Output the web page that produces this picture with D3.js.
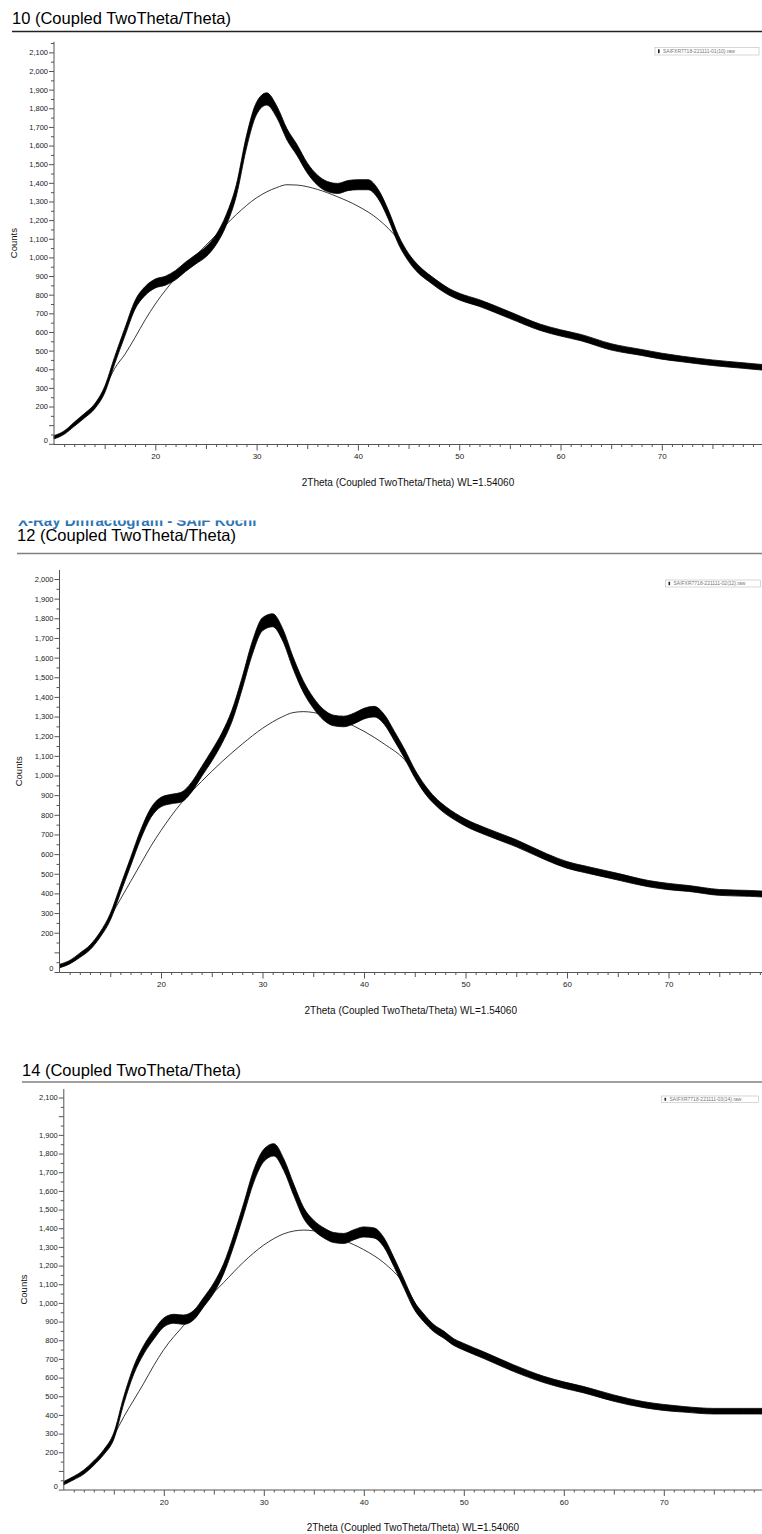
<!DOCTYPE html>
<html>
<head>
<meta charset="utf-8">
<script src="https://cdn.jsdelivr.net/npm/d3@7"></script>
<style>
  body { margin: 0; background: #fff; }
  text { font-family: "Liberation Sans", Arial, sans-serif; }
</style>
</head>
<body>
<script>
// 2theta positions (deg) where the patterns were read
const twoTheta = [10, 11, 12, 13, 14, 15, 16, 17, 18, 19, 20, 21, 22, 23, 24, 25, 26, 27, 28, 29,
  30, 31, 32, 33, 34, 35, 36, 37, 38, 39, 40, 41, 42, 43, 44, 45, 46, 47, 48, 49, 50,
  52, 55, 58, 60, 62, 65, 68, 70, 72, 75, 78, 80]

// counts (centre of the noisy trace) and half-width of the noise band
const counts10 = [35, 60, 105, 150, 200, 290, 450, 600, 745, 820, 860, 875, 905, 950, 990, 1030, 1095, 1200, 1360, 1620,
  1800, 1850, 1780, 1660, 1575, 1480, 1415, 1380, 1370, 1385, 1390, 1390, 1340, 1230, 1095, 1000, 935, 890, 850, 815, 790,
  755, 690, 625, 595, 570, 520, 490, 470, 455, 435, 420, 410]
const noise10 = [9, 9, 11, 12, 13, 17, 19, 21, 23, 24, 24, 24, 25, 25, 25, 27, 27, 29, 30, 33,
  33, 33, 31, 30, 29, 27, 27, 27, 27, 27, 27, 27, 25, 24, 23, 21, 21, 19, 19, 18, 18,
  18, 18, 17, 17, 17, 17, 16, 16, 15, 15, 15, 15]

const counts12 = [30, 50, 85, 125, 190, 280, 420, 560, 700, 810, 865, 880, 890, 940, 1020, 1100, 1190, 1305, 1470, 1650,
  1770, 1790, 1715, 1575, 1455, 1370, 1310, 1280, 1275, 1290, 1315, 1325, 1285, 1200, 1110, 1010, 930, 870, 825, 790, 760,
  715, 655, 585, 545, 520, 485, 450, 435, 425, 405, 400, 395]
const noise12 = [9, 9, 11, 12, 13, 17, 19, 21, 23, 24, 24, 24, 25, 25, 25, 27, 27, 29, 30, 33,
  33, 33, 31, 30, 29, 27, 27, 27, 27, 27, 27, 27, 25, 24, 23, 21, 21, 19, 19, 18, 18,
  18, 18, 17, 17, 17, 17, 16, 16, 15, 15, 15, 15]

const counts14 = [35, 62, 94, 142, 201, 287, 480, 640, 750, 830, 895, 915, 910, 935, 1005, 1080, 1185, 1335, 1505, 1680,
  1790, 1820, 1740, 1605, 1480, 1415, 1375, 1350, 1345, 1365, 1380, 1375, 1325, 1220, 1105, 990, 920, 865, 830, 790, 765,
  720, 650, 590, 560, 535, 490, 455, 440, 430, 420, 420, 420]
const noise14 = [9, 9, 11, 12, 13, 17, 19, 21, 23, 24, 24, 24, 25, 25, 25, 27, 27, 29, 30, 33,
  33, 33, 31, 30, 29, 27, 27, 27, 27, 27, 27, 27, 25, 24, 23, 21, 21, 19, 19, 18, 18,
  18, 18, 17, 17, 17, 17, 16, 16, 15, 15, 15, 15]

// fitted background (thin smooth curve)
const fitTheta = [15, 16, 17, 18, 19, 20, 22, 24, 26, 28, 30, 32, 33, 34, 36, 38, 40, 42, 44, 46, 48, 50, 55, 60, 65, 70, 75, 80]
const fit10 = [290, 405, 480, 570, 665, 750, 890, 1010, 1120, 1230, 1320, 1375, 1390, 1388, 1365, 1325, 1275, 1205, 1095, 935, 850, 790, 690, 595, 520, 470, 435, 410]
const fit12 = [280, 370, 460, 550, 640, 720, 860, 970, 1070, 1160, 1240, 1300, 1320, 1325, 1310, 1275, 1225, 1160, 1080, 930, 825, 760, 655, 545, 485, 435, 405, 395]
const fit14 = [287, 390, 480, 570, 665, 750, 880, 1000, 1110, 1220, 1310, 1370, 1385, 1390, 1375, 1335, 1285, 1215, 1105, 920, 830, 765, 650, 560, 490, 440, 420, 420]

const xTickLabels = [20, 30, 40, 50, 60, 70]
const xTitle = "2Theta (Coupled TwoTheta/Theta) WL=1.54060"

const panels = [
  { title: "10 (Coupled TwoTheta/Theta)", file: "SAIFXR7718-221111-01(10).raw",
    counts: counts10, noise: noise10, fit: fit10, hide: [100],
    titleX: 12, titleY: 24, ruleX: 12, ruleY: 31.5, ruleColor: "#222",
    left: 54, degPx: 10.13, zeroY: 443.8, y2000: 71, bottomY: 444.5, topY: 41.7,
    legend: [655, 47.5, 104, 7.5], countsX: 17 },
  { title: "12 (Coupled TwoTheta/Theta)", file: "SAIFXR7718-221111-02(12).raw",
    counts: counts12, noise: noise12, fit: fit12, hide: [100],
    titleX: 17, titleY: 541, ruleX: 17, ruleY: 553.5, ruleColor: "#808080",
    left: 59.5, degPx: 10.15, zeroY: 972, y2000: 579, bottomY: 972.5, topY: 570,
    legend: [665.5, 580, 95, 7], countsX: 22 },
  { title: "14 (Coupled TwoTheta/Theta)", file: "SAIFXR7718-221111-03(14).raw",
    counts: counts14, noise: noise14, fit: fit14, hide: [100, 2000],
    titleX: 22, titleY: 1076, ruleX: 22, ruleY: 1082, ruleColor: "#808080",
    left: 63.8, degPx: 10.0, zeroY: 1489.6, y2000: 1116.2, bottomY: 1490, topY: 1089,
    legend: [661.5, 1096, 97, 6.5], countsX: 27 },
]

const svg = d3.select("body")
  .append("svg")
    .attr("width", 762)
    .attr("height", 1534)

// partially cropped heading above the second panel
svg.append("clipPath")
    .attr("id", "headClip")
  .append("rect")
    .attr("x", 0).attr("y", 520.5).attr("width", 762).attr("height", 9)
svg.append("text")
    .attr("clip-path", "url(#headClip)")
    .attr("x", 18).attr("y", 526)
    .attr("fill", "#2e75b6")
    .style("font-size", "15px")
    .style("font-weight", "bold")
    .text("X-Ray Diffractogram - SAIF Kochi")

const drawPanel = (p) => {
  const g = svg.append("g")

  g.append("text")
      .attr("x", p.titleX).attr("y", p.titleY)
      .attr("fill", "#000")
      .style("font-size", "16.5px")
      .text(p.title)
  g.append("line")
      .attr("x1", p.ruleX).attr("x2", 762)
      .attr("y1", p.ruleY).attr("y2", p.ruleY)
      .attr("stroke", p.ruleColor)
      .attr("stroke-width", 1.3)

  // scales
  const x = d3.scaleLinear()
    .domain([10, 80])
    .range([p.left, p.left + 70 * p.degPx])
  const y = d3.scaleLinear()
    .domain([0, 2000])
    .range([p.zeroY, p.y2000])
  y.domain([y.invert(p.bottomY), y.invert(p.topY)]).range([p.bottomY, p.topY])

  const data = twoTheta.map((t, i) => ({ t, c: p.counts[i], s: p.noise[i] }))
  const fitData = fitTheta.map((t, i) => ({ t, c: p.fit[i] }))

  // fitted curve
  g.append("path")
      .datum(fitData)
      .attr("fill", "none")
      .attr("stroke", "#222")
      .attr("stroke-width", 0.9)
      .attr("d", d3.line().x(d => x(d.t)).y(d => y(d.c)).curve(d3.curveMonotoneX))

  // noisy measured trace as a band
  g.append("path")
      .datum(data)
      .attr("fill", "#000")
      .attr("stroke", "#000")
      .attr("stroke-width", 0.8)
      .attr("d", d3.area()
        .x(d => x(d.t))
        .y0(d => y(d.c - d.s))
        .y1(d => y(d.c + d.s))
        .curve(d3.curveMonotoneX))

  // y axis
  const yMax = y.domain()[1]
  const majors = d3.range(0, yMax, 100)
  const minors = d3.range(50, yMax, 100)
  const yAxis = g.append("g")
      .attr("transform", `translate(${x(10)},0)`)
      .call(d3.axisLeft(y).tickValues(majors).tickSize(5).tickPadding(1)
        .tickFormat(d => p.hide.includes(d) ? "" : d3.format(",")(d)))
  yAxis.append("g")
      .call(d3.axisLeft(y).tickValues(minors).tickSize(3).tickFormat(""))
  yAxis.selectAll(".domain").remove()
  yAxis.append("line")
      .attr("y1", p.bottomY).attr("y2", p.topY)
      .attr("stroke", "#555")
  yAxis.selectAll(".tick line").attr("stroke", "#555")
  yAxis.selectAll(".tick text")
      .attr("fill", "#222")
      .style("font-size", "7.5px")
      .filter(d => d === 0)
      .attr("dy", "-0.2em")

  // x axis
  const xAxis = g.append("g")
      .attr("transform", `translate(0,${p.bottomY})`)
      .call(d3.axisBottom(x).tickValues(xTickLabels).tickSize(6).tickPadding(3).tickFormat(d3.format("d")))
  xAxis.append("g")
      .call(d3.axisBottom(x).tickValues(d3.range(15, 81, 10)).tickSize(4.5).tickFormat(""))
  xAxis.append("g")
      .call(d3.axisBottom(x).tickValues(d3.range(11, 81).filter(d => d % 5 !== 0)).tickSize(2.5).tickFormat(""))
  xAxis.selectAll(".domain").remove()
  xAxis.append("line")
      .attr("x1", x(10)).attr("x2", 762)
      .attr("stroke", "#555")
  xAxis.selectAll(".tick line").attr("stroke", "#555")
  xAxis.selectAll(".tick text")
      .attr("fill", "#222")
      .style("font-size", "8px")

  g.append("text")
      .attr("x", (x(10) + 762) / 2)
      .attr("y", p.bottomY + 41)
      .attr("text-anchor", "middle")
      .attr("fill", "#111")
      .style("font-size", "10px")
      .text(xTitle)

  g.append("text")
      .attr("transform", `translate(${p.countsX},${(p.bottomY + p.topY) / 2}) rotate(-90)`)
      .attr("text-anchor", "middle")
      .attr("fill", "#111")
      .style("font-size", "9.5px")
      .text("Counts")

  // legend
  const [lx, ly, lw, lh] = p.legend
  g.append("rect")
      .attr("x", lx).attr("y", ly).attr("width", lw).attr("height", lh)
      .attr("fill", "#fff").attr("stroke", "#bbb").attr("stroke-width", 0.6)
  g.append("rect")
      .attr("x", lx + 3).attr("y", ly + 1.8).attr("width", 1.6).attr("height", lh - 3.6)
      .attr("fill", "#222")
  g.append("text")
      .attr("x", lx + 8).attr("y", ly + lh - 1.8)
      .attr("fill", "#777")
      .style("font-size", "5px")
      .text(p.file)
}

panels.forEach(drawPanel)
</script>
</body>
</html>
